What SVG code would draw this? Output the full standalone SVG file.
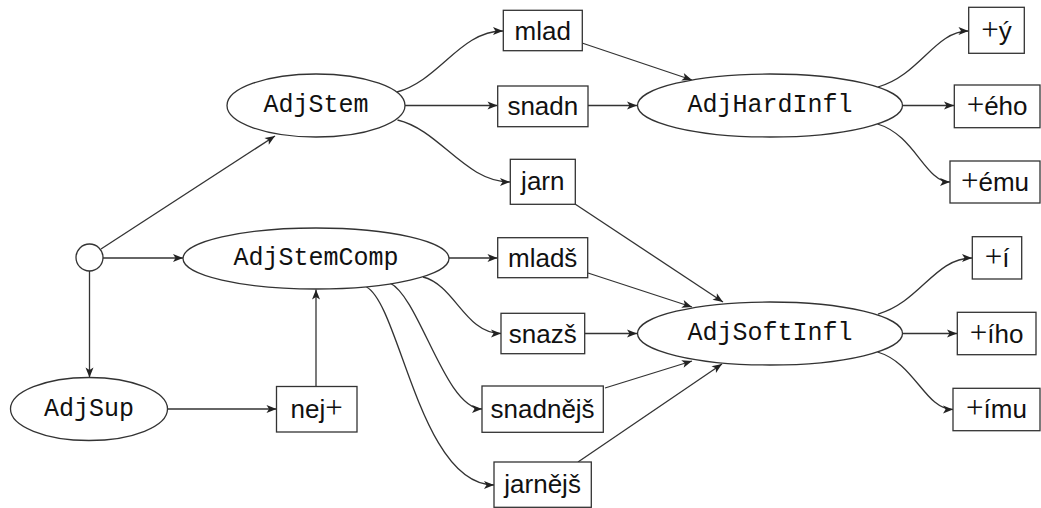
<svg xmlns="http://www.w3.org/2000/svg" width="1041" height="508" viewBox="0 0 1041 508">
<style>
.n{fill:#fff;stroke:#333;stroke-width:1.3}
.m{font-family:"Liberation Mono","DejaVu Sans Mono",monospace;font-size:25px;fill:#111;text-anchor:middle}
.s{font-family:"Liberation Sans","DejaVu Sans",sans-serif;font-size:26px;fill:#111;text-anchor:middle}
.p{font-family:"Liberation Serif","DejaVu Serif",serif;font-size:31px}
.e{fill:none;stroke:#333;stroke-width:1.3;marker-end:url(#a)}
</style>
<defs>
<marker id="a" viewBox="-1 -5 12 10" markerWidth="12" markerHeight="10" refX="10" refY="0" orient="auto" markerUnits="userSpaceOnUse">
<path d="M0,-4 L10,0 L0,4 L2.5,0 z" fill="#222"/>
</marker>
</defs>
<g id="connectors">
<path class="e" d="M101,249 L275,136"/>
<path class="e" d="M103,258 L183,258"/>
<path class="e" d="M89.5,271 L89.5,377.5"/>
<path class="e" d="M168,409 L276.5,409"/>
<path class="e" d="M316,386.5 L316,289.5"/>
<path class="e" d="M397,92 C440,80 460,31 503,31"/>
<path class="e" d="M405,105.5 L497.5,105.5"/>
<path class="e" d="M397.5,120 C440,130 465,182 510,182"/>
<path class="e" d="M582,43 L692,80"/>
<path class="e" d="M588,105.5 L637,105.5"/>
<path class="e" d="M575,204 L723,302"/>
<path class="e" d="M878,87 C920,75 935,31 968.5,31"/>
<path class="e" d="M902.5,105.5 L954,105.5"/>
<path class="e" d="M877.5,124 C915,135 925,182 950,182"/>
<path class="e" d="M449,258 L497.5,258"/>
<path class="e" d="M423,277 C455,285 465,333.5 501,333.5"/>
<path class="e" d="M390,283 C420,298 445,409 482,409"/>
<path class="e" d="M366.5,287 C400,305 420,485 494,485"/>
<path class="e" d="M588,273 L692,307"/>
<path class="e" d="M585,333.5 L637,333.5"/>
<path class="e" d="M605,388 L692,361"/>
<path class="e" d="M578,462 L722,364"/>
<path class="e" d="M878,314 C920,302 935,258 972,258"/>
<path class="e" d="M902.5,333.5 L957,333.5"/>
<path class="e" d="M877.5,352 C915,363 925,409.5 953,409.5"/>
</g>
<g id="start"><circle class="n" cx="89.5" cy="257.5" r="13.5"/></g>
<g id="AdjStem"><ellipse class="n" cx="316" cy="105.5" rx="89" ry="31.5"/><text class="m" x="316" y="112">AdjStem</text></g>
<g id="AdjStemComp"><ellipse class="n" cx="316" cy="258.5" rx="133" ry="30.5"/><text class="m" x="316" y="265">AdjStemComp</text></g>
<g id="AdjSup"><ellipse class="n" cx="89" cy="409" rx="78.5" ry="31.5"/><text class="m" x="89" y="415.5">AdjSup</text></g>
<g id="AdjHardInfl"><ellipse class="n" cx="770" cy="105.5" rx="132.5" ry="31.5"/><text class="m" x="770" y="112">AdjHardInfl</text></g>
<g id="AdjSoftInfl"><ellipse class="n" cx="770" cy="333.5" rx="132.5" ry="31.5"/><text class="m" x="770" y="340">AdjSoftInfl</text></g>
<g id="nej"><rect class="n" x="276.5" y="386.5" width="80.5" height="45.5"/><text class="s" x="316.7" y="418">nej<tspan class="p">+</tspan></text></g>
<g id="mlad"><rect class="n" x="503.3" y="10.3" width="79" height="40.4"/><text class="s" x="542.8" y="39.5">mlad</text></g>
<g id="snadn"><rect class="n" x="497.7" y="86" width="90.3" height="40.7"/><text class="s" x="542.8" y="115">snadn</text></g>
<g id="jarn"><rect class="n" x="510.3" y="159.3" width="65" height="45"/><text class="s" x="542.8" y="190">jarn</text></g>
<g id="mladsh"><rect class="n" x="497.7" y="237.7" width="90" height="40"/><text class="s" x="542.7" y="267">mladš</text></g>
<g id="snazsh"><rect class="n" x="501" y="313.3" width="83.7" height="40.4"/><text class="s" x="542.8" y="342.5">snazš</text></g>
<g id="snadnejsh"><rect class="n" x="482" y="386" width="121.3" height="46.3"/><text class="s" x="542.6" y="418">snadnějš</text></g>
<g id="jarnejsh"><rect class="n" x="494" y="462" width="97.3" height="45.3"/><text class="s" x="542.6" y="493">jarnějš</text></g>
<g id="y"><rect class="n" x="968.7" y="7.3" width="55.6" height="46"/><text class="s" x="996.5" y="39.5"><tspan class="p">+</tspan>ý</text></g>
<g id="eho"><rect class="n" x="954.3" y="85" width="85.7" height="42.7"/><text class="s" x="997.1" y="115"><tspan class="p">+</tspan>ého</text></g>
<g id="emu"><rect class="n" x="950" y="161" width="90" height="42"/><text class="s" x="995" y="190.5"><tspan class="p">+</tspan>ému</text></g>
<g id="i"><rect class="n" x="972.3" y="236.7" width="49.4" height="42.3"/><text class="s" x="997" y="267"><tspan class="p">+</tspan>í</text></g>
<g id="iho"><rect class="n" x="957.3" y="312.3" width="78.7" height="42.4"/><text class="s" x="996.6" y="342.5"><tspan class="p">+</tspan>ího</text></g>
<g id="imu"><rect class="n" x="953" y="388.3" width="87" height="42.4"/><text class="s" x="996.5" y="418"><tspan class="p">+</tspan>ímu</text></g>
</svg>
